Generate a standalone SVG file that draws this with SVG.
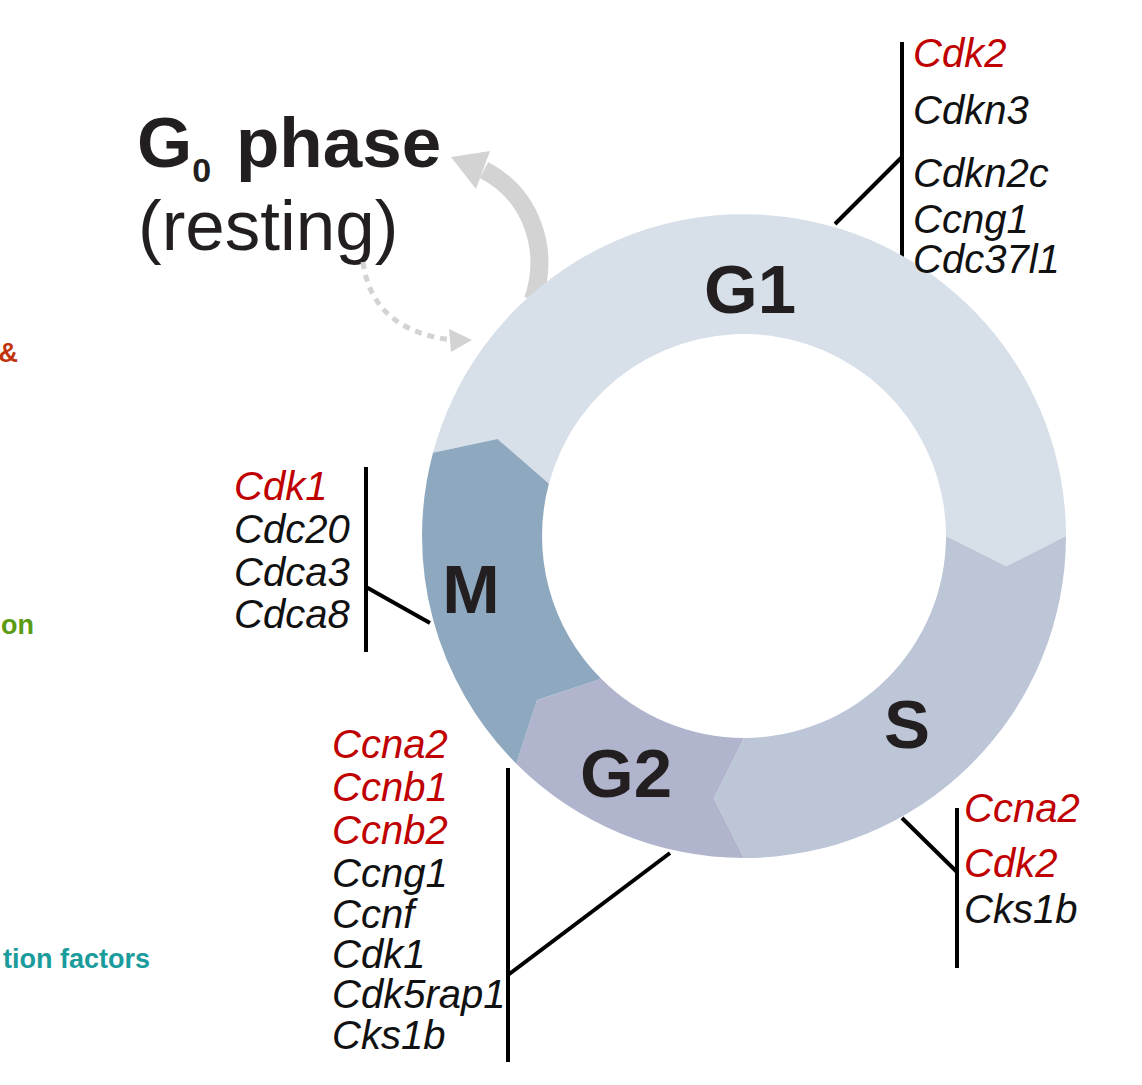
<svg xmlns="http://www.w3.org/2000/svg" width="1142" height="1085" viewBox="0 0 1142 1085">
<style>
.lbl{font-family:"Liberation Sans",Arial,sans-serif;font-weight:bold;fill:#231f20;text-anchor:middle;font-size:69px}
.gene{font-family:"Liberation Sans",Arial,sans-serif;font-style:italic;font-size:40px;fill:#111}
.red{fill:#c00000}
.bar{stroke:#000;stroke-width:4;fill:none}
.side{font-family:"Liberation Sans",Arial,sans-serif;font-weight:bold;font-size:27px;text-anchor:end}
</style>
<rect width="1142" height="1085" fill="#fff"/>
<g id="side-labels">
<text class="side" x="18" y="362" fill="#c0340c">&amp;</text>
<text class="side" x="34" y="634" fill="#5b9b12">on</text>
<text class="side" x="150" y="968" fill="#1a9c9c">tion factors</text>
</g>
<g id="g0">
<text font-family="Liberation Sans,Arial,sans-serif" font-weight="bold" font-size="71" fill="#231f20" x="137" y="167">G<tspan font-size="34" dy="15">0</tspan><tspan x="236" dy="-15">phase</tspan></text>
<text font-family="Liberation Sans,Arial,sans-serif" font-size="71" fill="#231f20" x="138" y="250">(resting)</text>
</g>
<g id="connectors">
<path d="M533 300 C550 250 532 195 484 170" stroke="#d3d3d3" stroke-width="18" fill="none"/>
<polygon points="451,157 490,151 476,189" fill="#d3d3d3"/>
<path d="M363 262 Q372 330 452 340" stroke="#d3d3d3" stroke-width="5" fill="none" stroke-dasharray="7 6"/>
<polygon points="472,340 449,329 451,352" fill="#d3d3d3"/>
<path class="bar" d="M902 42 V277 M902 157 L835 224"/>
<path class="bar" d="M957 808 V968 M957 872 L902 818"/>
<path class="bar" d="M366 467 V652 M366 587 L430 623"/>
<path class="bar" d="M508 768 V1062 M508 975 L670 853"/>
</g>
<g id="ring">
<g id="G1"><path d="M433 452.7 A322 322 0 0 1 1066 536 L1006.3 566.3 L946 536 A202 202 0 0 0 548.9 483.7 L497.4 438.9 Z" fill="#d7dfe9"/><text class="lbl" x="750" y="313">G1</text></g>
<g id="S"><path d="M1066 536 A322 322 0 0 1 744 858 L713.7 798.3 L744 738 A202 202 0 0 0 946 536 L1006.3 566.3 Z" fill="#bcc6d7"/><text class="lbl" x="907" y="748">S</text></g>
<g id="G2"><path d="M744 858 A322 322 0 0 1 516.3 763.7 L537.1 700 L601.2 678.8 A202 202 0 0 0 744 738 L713.7 798.3 Z" fill="#b0b4cc"/><text class="lbl" x="626" y="797">G2</text></g>
<g id="M"><path d="M516.3 763.7 A322 322 0 0 1 433 452.7 L497.4 438.9 L548.9 483.7 A202 202 0 0 0 601.2 678.8 L537.1 700 Z" fill="#8ea8c0"/><text class="lbl" x="471" y="613">M</text></g>
</g>
<g id="genes-G1">
<text class="gene red" x="913" y="67">Cdk2</text>
<text class="gene" x="913" y="124">Cdkn3</text>
<text class="gene" x="913" y="187">Cdkn2c</text>
<text class="gene" x="913" y="233">Ccng1</text>
<text class="gene" x="913" y="273">Cdc37l1</text>
</g>
<g id="genes-S">
<text class="gene red" x="964" y="822">Ccna2</text>
<text class="gene red" x="964" y="877">Cdk2</text>
<text class="gene" x="964" y="923">Cks1b</text>
</g>
<g id="genes-M">
<text class="gene red" x="234" y="500">Cdk1</text>
<text class="gene" x="234" y="543">Cdc20</text>
<text class="gene" x="234" y="586">Cdca3</text>
<text class="gene" x="234" y="628">Cdca8</text>
</g>
<g id="genes-G2">
<text class="gene red" x="332" y="758">Ccna2</text>
<text class="gene red" x="332" y="801">Ccnb1</text>
<text class="gene red" x="332" y="844">Ccnb2</text>
<text class="gene" x="332" y="887">Ccng1</text>
<text class="gene" x="332" y="928">Ccnf</text>
<text class="gene" x="332" y="968">Cdk1</text>
<text class="gene" x="332" y="1008">Cdk5rap1</text>
<text class="gene" x="332" y="1049">Cks1b</text>
</g>
</svg>
